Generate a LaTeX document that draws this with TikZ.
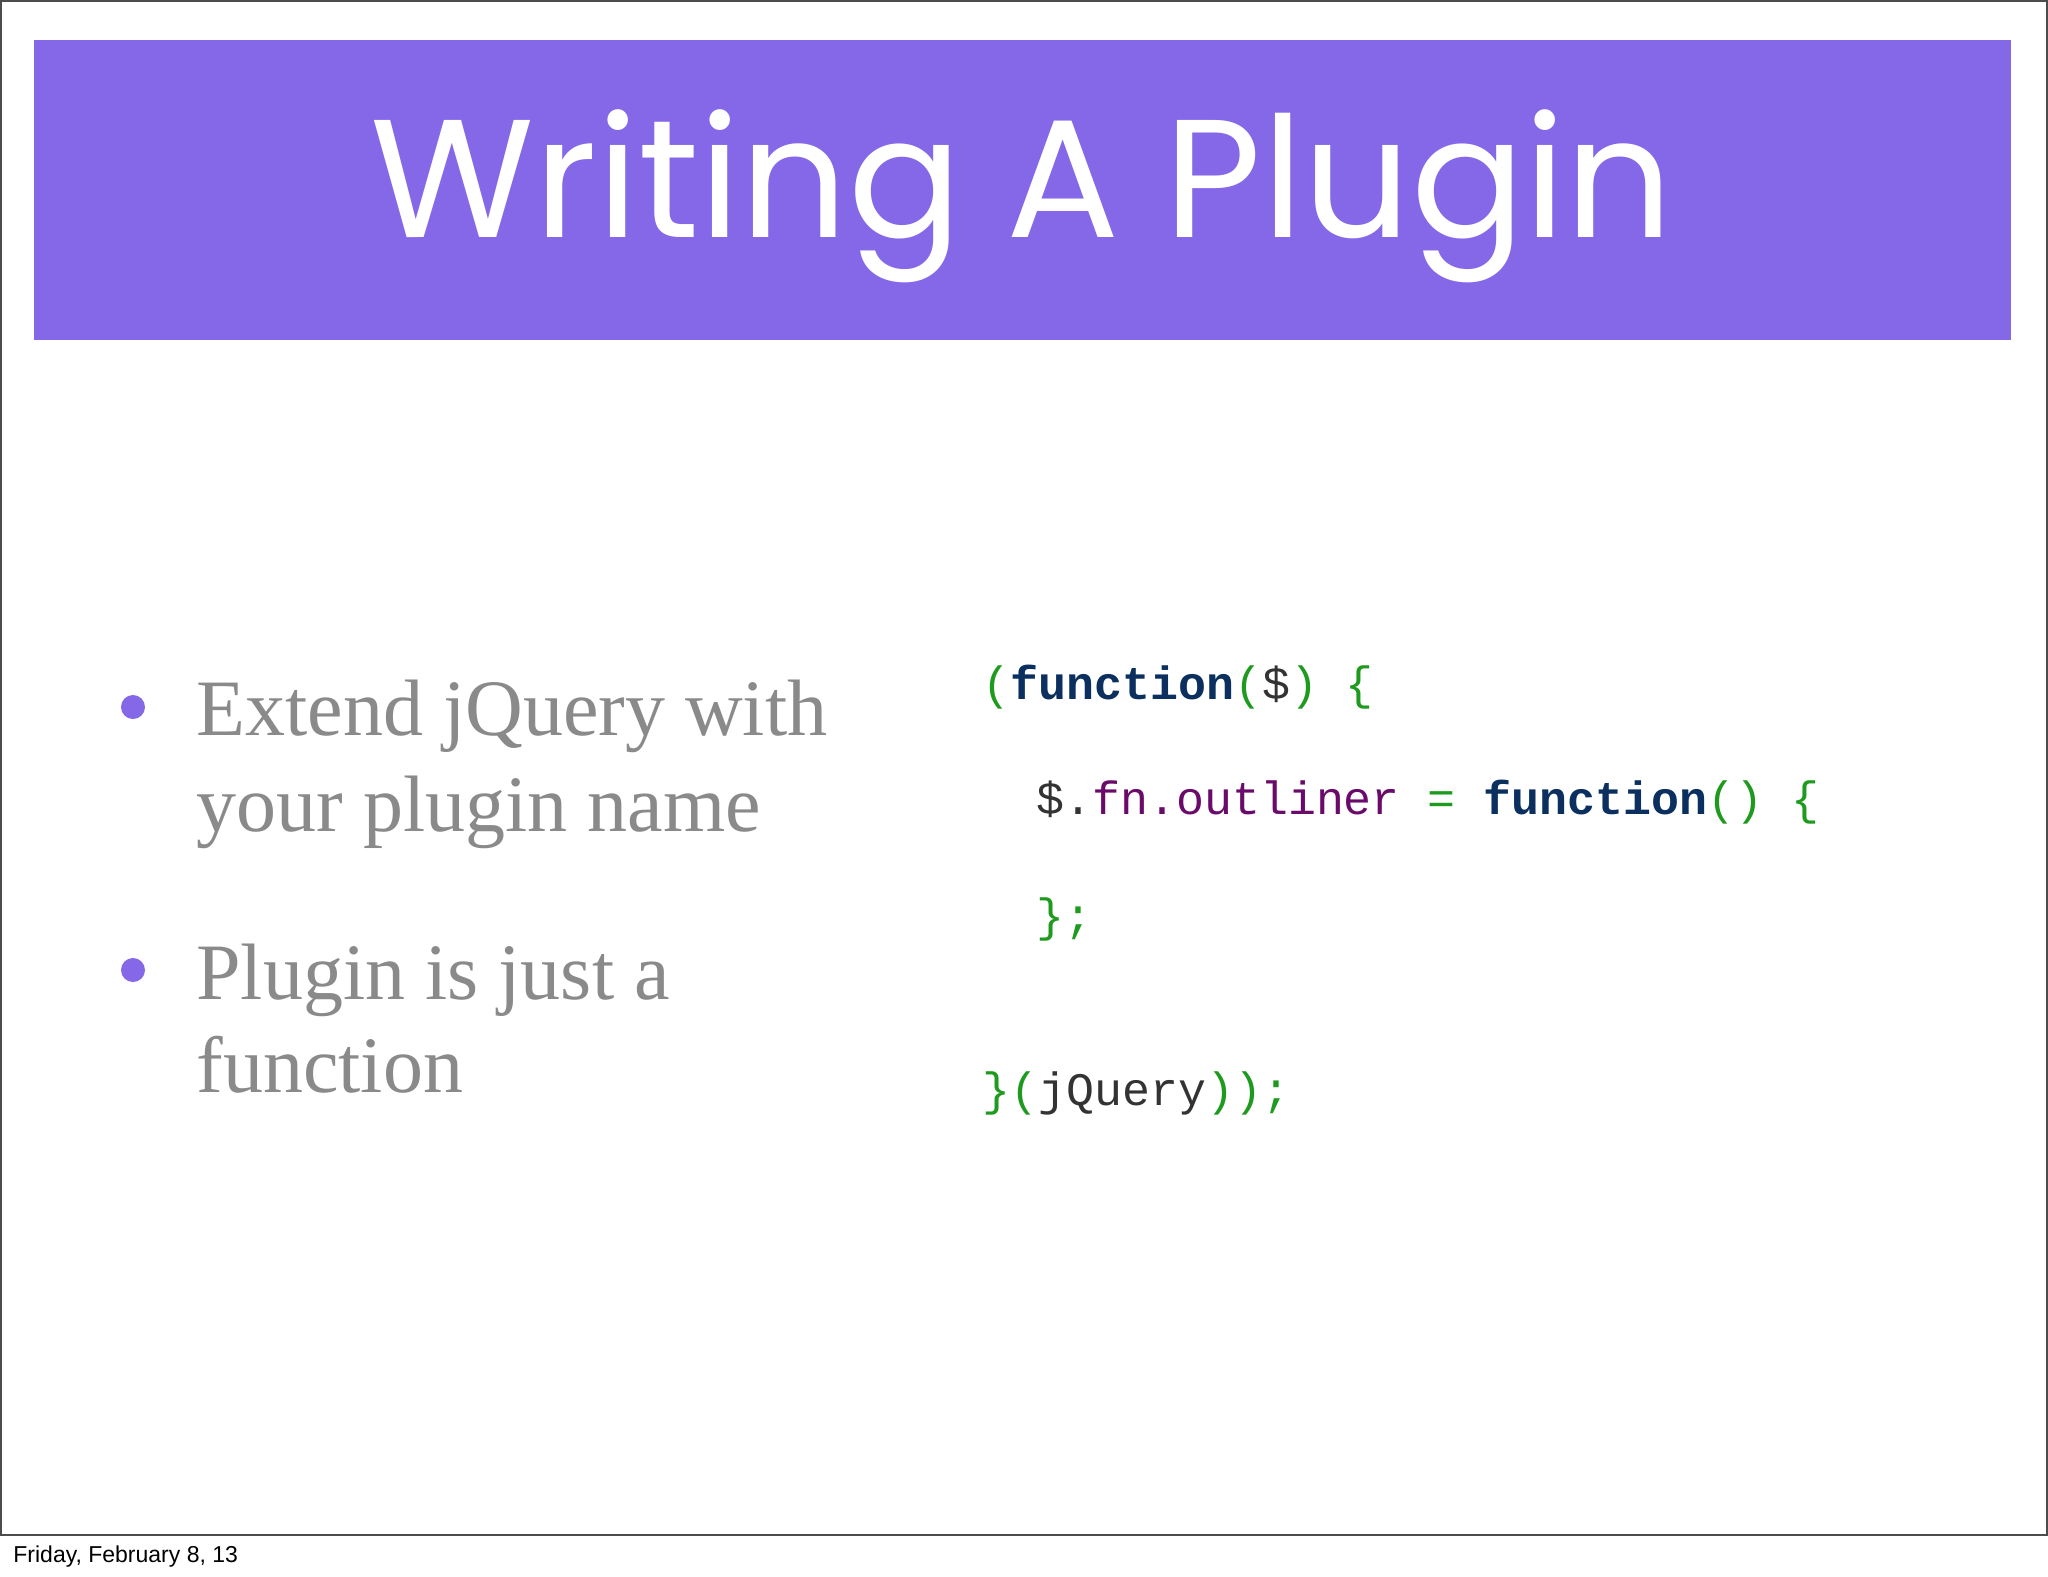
\documentclass[tikz,border=0pt]{standalone}
\usepackage{fontspec}
\setmainfont{Liberation Serif}
\newfontfamily\titlefont{Poppins}
\newfontfamily\codefont{Liberation Mono}
\newfontfamily\footfont{Liberation Sans}
\definecolor{barc}{HTML}{8468E8}
\definecolor{bulc}{HTML}{8A8A8A}
\definecolor{cg}{HTML}{1E9A1E}
\definecolor{cn}{HTML}{0B2F5E}
\definecolor{cp}{HTML}{6A0A6A}
\definecolor{cd}{HTML}{333333}
\begin{document}
\begin{tikzpicture}[x=0.5pt,y=-0.5pt,
  bul/.style={anchor=base west,inner sep=0,text=bulc,font=\fontsize{40}{48}\selectfont},
  code/.style={anchor=base west,inner sep=0,font=\codefont\fontsize{23.3}{28}\selectfont}]
\useasboundingbox (0,0) rectangle (2048,1576);
\fill[white] (0,0) rectangle (2048,1576);
\draw[line width=0.7pt,black!70] (1,1) rectangle (2047,1535);
\fill[barc] (34,40) rectangle (2011,340);
\node[text=white,inner sep=0,font=\titlefont\fontsize{84}{90}\selectfont] (title) at (1022,196) {Writing A Plugin};
\fill[barc] (133,707) circle (12);
\node[bul] (b1a) at (196,735) {Extend jQuery with};
\node[bul] (b1b) at (196,831) {your plugin name};
\fill[barc] (133,970) circle (12);
\node[bul] (b2a) at (196,999) {Plugin is just a};
\node[bul] (b2b) at (196,1092) {function};
\node[code] (c1) at (982,699) {\textcolor{cg}{(}\textcolor{cn}{\bfseries function}\textcolor{cg}{(}\textcolor{cd}{\$}\textcolor{cg}{) \{}};
\node[code] (c2) at (1036,814) {\textcolor{cd}{\$.}\textcolor{cp}{fn.outliner} \textcolor{cg}{=} \textcolor{cn}{\bfseries function}\textcolor{cg}{() \{}};
\node[code] (c3) at (1036,931) {\textcolor{cg}{\};}};
\node[code] (c4) at (982,1105) {\textcolor{cg}{\}(}\textcolor{cd}{jQuery}\textcolor{cg}{));}};
\node[anchor=base west,inner sep=0,font=\footfont\fontsize{11.5}{14}\selectfont] (foot) at (13,1562) {Friday, February 8, 13};
\end{tikzpicture}
\end{document}
